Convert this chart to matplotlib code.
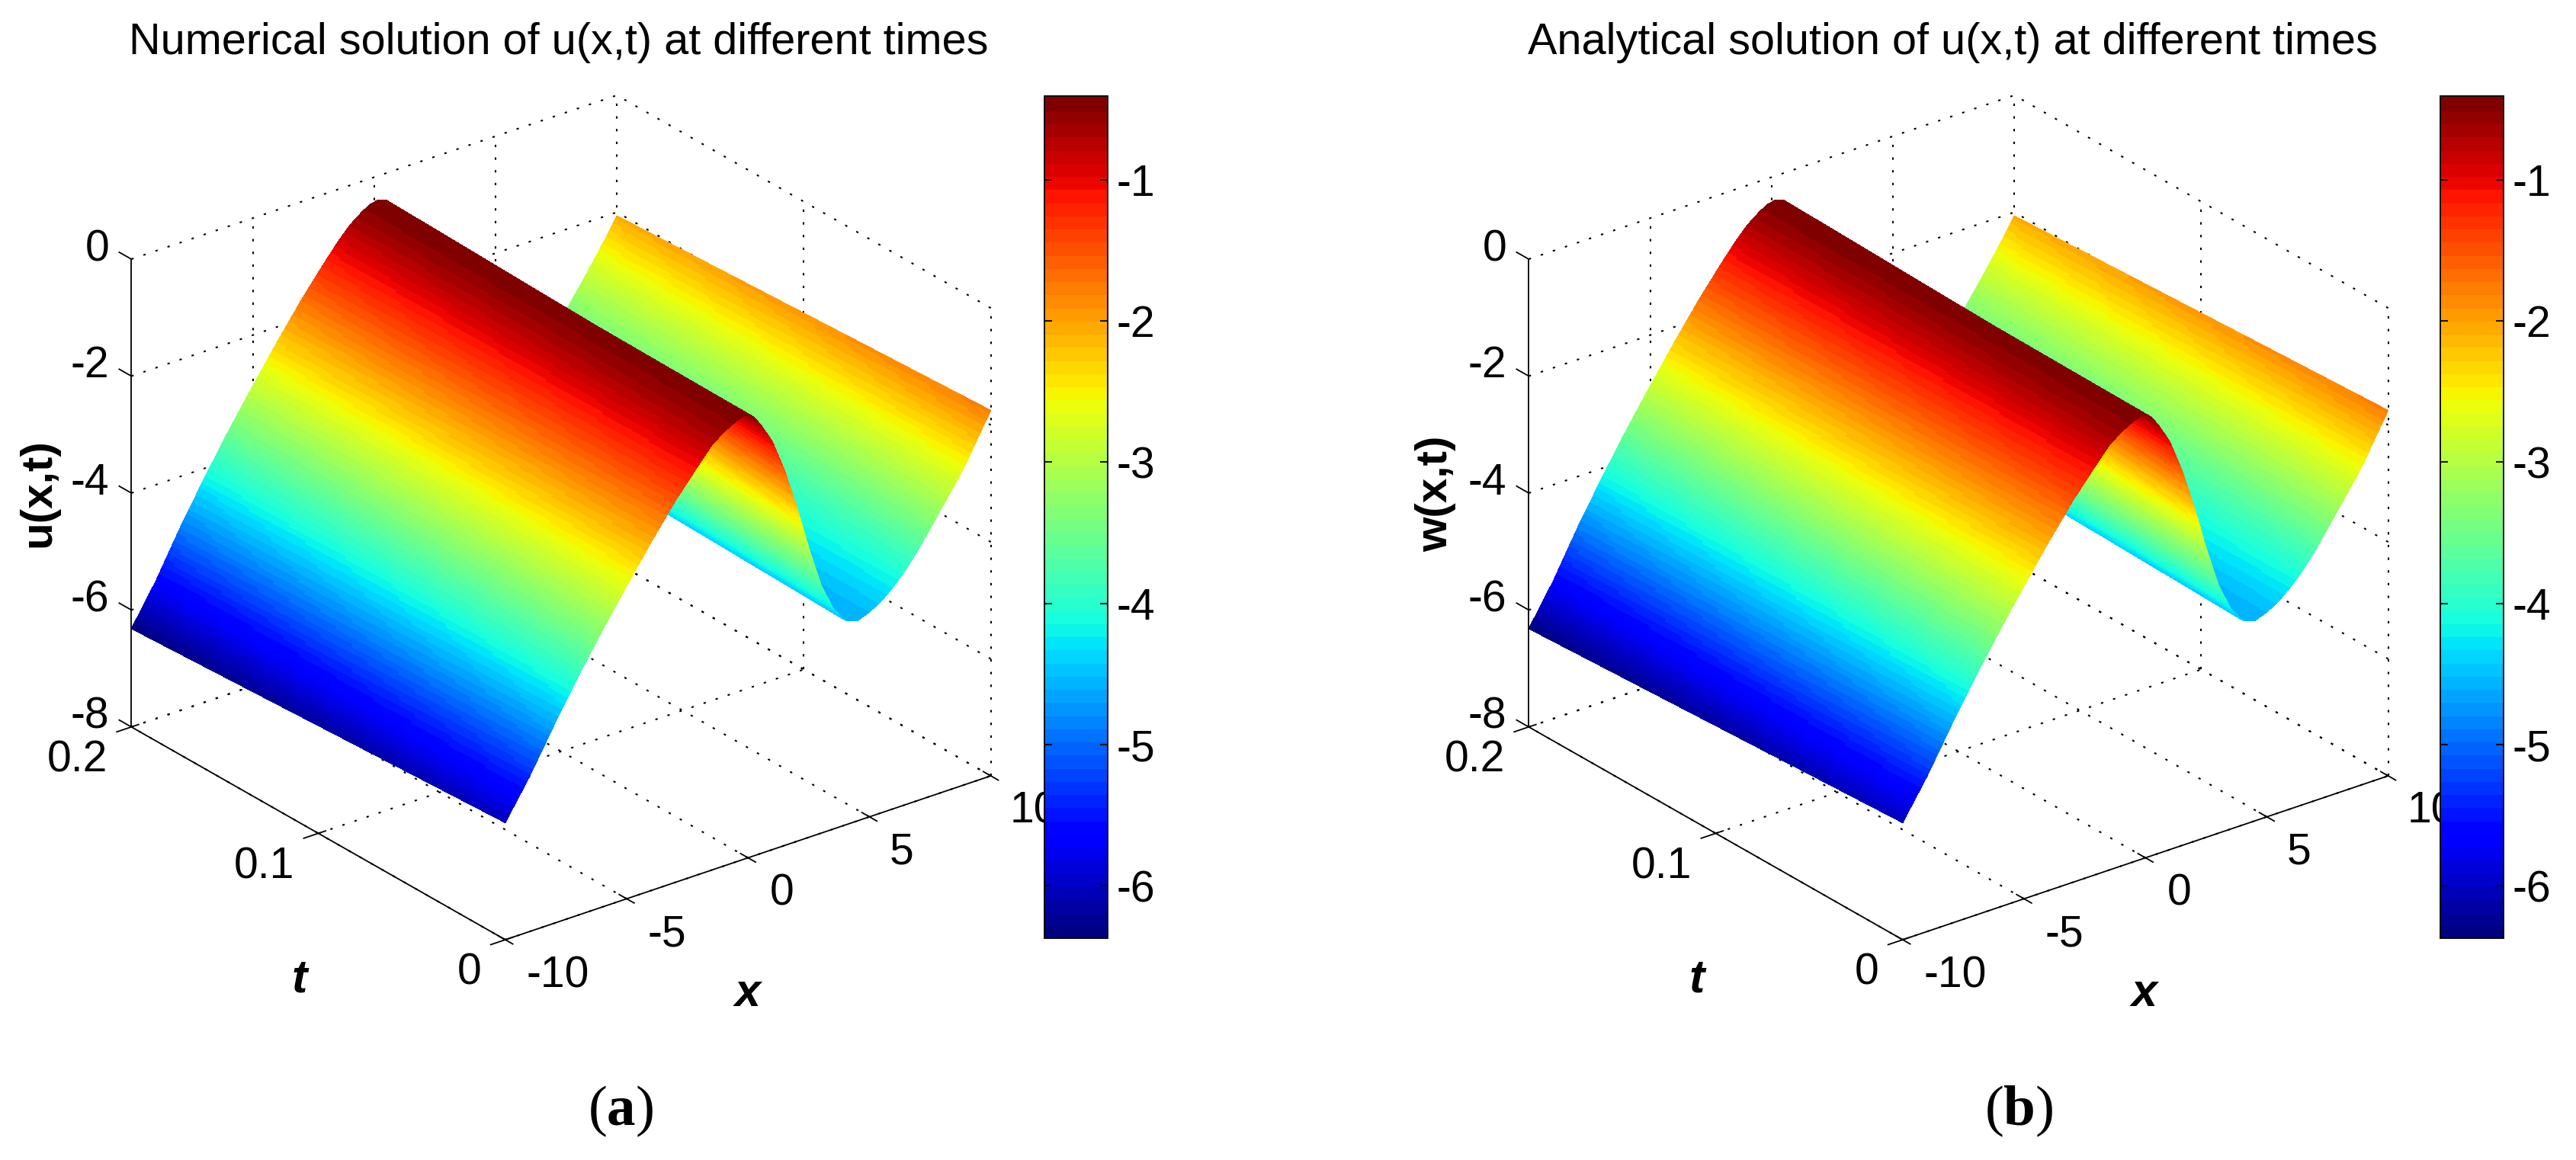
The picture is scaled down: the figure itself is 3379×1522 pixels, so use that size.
import numpy as np
import matplotlib
matplotlib.use("Agg")
import matplotlib.pyplot as plt
from matplotlib.cm import ScalarMappable
from matplotlib.colors import Normalize
from matplotlib.transforms import IdentityTransform
from mpl_toolkits.mplot3d import proj3d

W, H = 3379, 1522
plt.rcParams['font.family'] = ['Liberation Sans', 'DejaVu Sans']
plt.rcParams['mathtext.fontset'] = 'custom'
plt.rcParams['mathtext.rm'] = 'Liberation Serif'
plt.rcParams['mathtext.bf'] = 'Liberation Serif:bold'

# ---- values ----
x_values = [-10, -9, -8, -7, -6, -5, -4, -3, -2, -1.5, -1, -0.5, -0.17, 0.18, 0.5, 1, 1.5, 2,
            2.5, 3, 3.5, 4, 4.5, 5, 5.5, 6, 6.5, 7, 7.5, 8, 8.5, 9, 9.5, 10]
u_at_t0 = [-6.00, -5.35, -4.62, -3.92, -3.27, -2.65, -2.05, -1.48, -0.98, -0.74, -0.58, -0.47,
           -0.42, -0.47, -0.65, -1.02, -1.58, -2.27, -3.05, -3.75, -4.22, -4.50, -4.58, -4.50,
           -4.38, -4.20, -3.98, -3.72, -3.42, -3.12, -2.82, -2.50, -2.12, -1.75]
u_at_t02 = [-6.32, -5.65, -4.88, -4.17, -3.50, -2.87, -2.26, -1.68, -1.15, -0.90, -0.68, -0.52,
            -0.44, -0.41, -0.46, -0.78, -1.22, -1.82, -2.53, -3.30, -3.90, -4.32, -4.55, -4.57,
            -4.47, -4.30, -4.10, -3.88, -3.62, -3.33, -3.03, -2.72, -2.40, -2.06]
t_range = [0.0, 0.2]
x_ticks = [-10, -5, 0, 5, 10]
t_ticks = [0, 0.1, 0.2]
z_ticks = [-8, -6, -4, -2, 0]
colorbar_ticks = [-6, -5, -4, -3, -2, -1]
colorbar_limits = [-6.37, -0.41]
titles = ["Numerical solution of u(x,t) at different times",
          "Analytical solution of u(x,t) at different times"]
z_labels = ["u(x,t)", "w(x,t)"]
panel_tags = [r"($\mathbf{a}$)", r"($\mathbf{b}$)"]

TICK_FS = 41
fig = plt.figure(figsize=(W / 100, H / 100), dpi=100, facecolor='white')
cmap = plt.get_cmap('jet', 64)
norm = Normalize(*colorbar_limits)


def px(x, y):
    return x, H - y


def project(ax, x, t, z):
    xs, ys, _ = proj3d.proj_transform(x, t, z, ax.get_proj())
    p = ax.transData.transform((xs, ys))
    return p[0], p[1]


def draw_panel(back_top, front_bottom, title, zlabel, tag, title_x, zlabel_xy,
               t_xy, x_xy, tag_xy, bar_x):
    S = 1700
    ax = fig.add_axes([0, 0, S / W, S / H], projection='3d')
    ax.set_proj_type('ortho')
    ax.view_init(elev=26.0, azim=-127.6)
    ax.set_xlim(-10, 10, view_margin=0)
    ax.set_ylim(0, 0.2, view_margin=0)
    ax.set_zlim(-8, 0, view_margin=0)
    ax.set_box_aspect((804, 804, 683), zoom=1)
    ax.apply_aspect()
    # scale and shift so that the box lands on the reference corners
    y0 = project(ax, 10, 0.2, 0)[1] - project(ax, -10, 0, -8)[1]
    target = front_bottom[1] - back_top[1]
    ax.set_box_aspect((804, 804, 683), zoom=target / y0)
    ax.apply_aspect()
    p = project(ax, 10, 0.2, 0)
    q = project(ax, -10, 0, -8)
    cx = (p[0] + q[0]) / 2
    tx = (back_top[0] + front_bottom[0]) / 2
    cy = (p[1] + q[1]) / 2
    ty = H - (back_top[1] + front_bottom[1]) / 2
    ax.set_position([(tx - cx) / W, (ty - cy) / H, S / W, S / H])
    ax.apply_aspect()
    ax.set_axis_off()
    ax.patch.set_facecolor('none')
    ax.computed_zorder = False

    # back-plane and floor grid
    gkw = dict(color='black', lw=1.5, ls=(0, (1.5, 6.5)), zorder=1)
    for xv in x_ticks:
        ax.plot([xv, xv], [0, 0.2], [-8, -8], **gkw)
        if xv > -10:
            ax.plot([xv, xv], [0.2, 0.2], [-8, 0], **gkw)
    for tv in t_ticks:
        ax.plot([-10, 10], [tv, tv], [-8, -8], **gkw)
        if tv < 0.2:
            ax.plot([10, 10], [tv, tv], [-8, 0], **gkw)
    for zv in z_ticks:
        ax.plot([-10, 10], [0.2, 0.2], [zv, zv], **gkw)
        ax.plot([10, 10], [0, 0.2], [zv, zv], **gkw)

    # surface: the two read cross-sections, on a fine drawing mesh
    xf = np.linspace(x_values[0], x_values[-1], 420)
    fr = np.linspace(0, 1, 40)
    a = np.interp(xf, x_values, u_at_t0)
    b = np.interp(xf, x_values, u_at_t02)
    X, F = np.meshgrid(xf, fr)
    T = t_range[0] + F * (t_range[1] - t_range[0])
    Z = a[None, :] * (1 - F) + b[None, :] * F
    ax.plot_surface(X, T, Z, rstride=1, cstride=1, facecolors=cmap(norm(Z)), shade=False,
                    linewidth=0, edgecolor='none', antialiased=False, zorder=2)

    # solid axes and ticks
    skw = dict(color='black', lw=1.3, zorder=3)
    ax.plot([-10, -10], [0.2, 0.2], [-8, 0], **skw)
    ax.plot([-10, -10], [0, 0.2], [-8, -8], **skw)
    ax.plot([-10, 10], [0, 0], [-8, -8], **skw)
    for zv in z_ticks:
        ax.plot([-10, -10], [0.2, 0.2065], [zv, zv], **skw)
    for xv in x_ticks:
        ax.plot([xv, xv], [-0.004, 0.004], [-8, -8], **skw)
    for tv in t_ticks:
        ax.plot([-10.6, -9.7], [tv, tv], [-8, -8], **skw)

    tr = IdentityTransform()
    for zv in z_ticks:
        u, v = project(ax, -10, 0.2, zv)
        fig.text(u - 29, v + 13, str(zv), transform=tr, ha='right', va='center', fontsize=TICK_FS)
    for xv in x_ticks:
        u, v = project(ax, xv, 0, -8)
        dx = {-10: 69, -5: 53, 0: 44, 5: 42, 10: 57}[xv]
        fig.text(u + dx, v - 47, str(xv), transform=tr, ha='center', va='center', fontsize=TICK_FS)
    for tv in t_ticks:
        u, v = project(ax, -10, tv, -8)
        fig.text(u - 31, v - 44, f"{tv:g}", transform=tr, ha='right', va='center', fontsize=TICK_FS)

    fig.text(*px(title_x, 56), title, transform=tr, ha='center', va='center', fontsize=41.5)
    fig.text(*px(*zlabel_xy), zlabel, transform=tr, rotation=90, ha='center', va='center',
             fontsize=42, fontweight='bold')
    fig.text(*px(*t_xy), 't', transform=tr, ha='center', va='center', fontsize=44,
             fontweight='bold', fontstyle='italic')
    fig.text(*px(*x_xy), 'x', transform=tr, ha='center', va='center', fontsize=44,
             fontweight='bold', fontstyle='italic')
    fig.text(*px(*tag_xy), tag, transform=tr, ha='center', va='center', fontsize=54,
             family='Liberation Serif')

    # colorbar
    cax = fig.add_axes([bar_x / W, (H - 1231) / H, 83 / W, (1231 - 126.5) / H], zorder=5)
    sm = ScalarMappable(norm=norm, cmap=cmap)
    cb = fig.colorbar(sm, cax=cax)
    cb.set_ticks(colorbar_ticks)
    cb.set_ticklabels([str(v) for v in colorbar_ticks])
    cb.ax.tick_params(axis='y', direction='in', left=True, right=True, length=7, width=1.3,
                      labelsize=TICK_FS, pad=8)
    cb.outline.set_linewidth(1.3)
    cb.solids.set_edgecolor('face')


draw_panel((809, 125), (663, 1233), titles[0], z_labels[0], panel_tags[0], 733,
           (50, 647), (393, 1286), (981, 1305), (814, 1458), 1370)
draw_panel((2642, 125), (2496, 1233), titles[1], z_labels[1], panel_tags[1], 2561,
           (1883, 648), (2226, 1286), (2813, 1305), (2648, 1458), 3201)

fig.savefig('out.png', dpi=100)
